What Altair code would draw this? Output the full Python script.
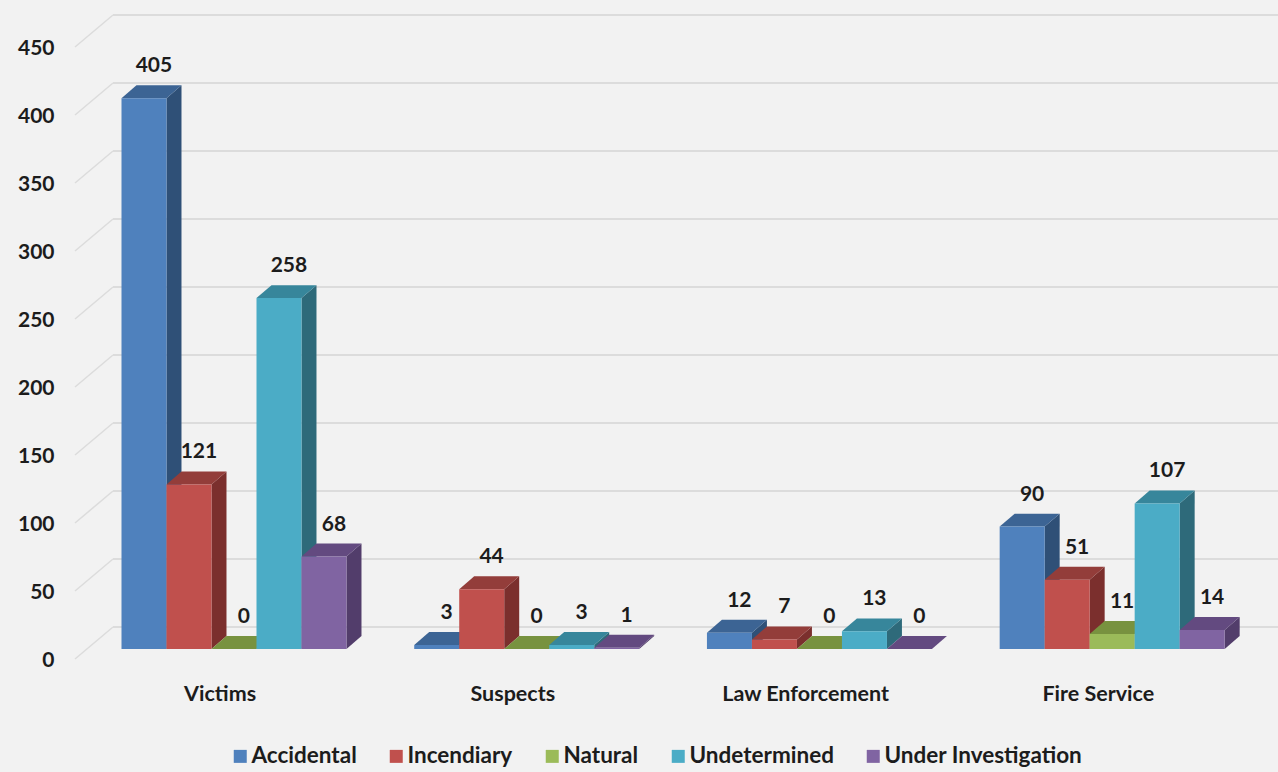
import json
import altair as alt
import pandas as pd

categories = ["Victims", "Suspects", "Law Enforcement", "Fire Service"]
series = ["Accidental", "Incendiary", "Natural", "Undetermined", "Under Investigation"]
values = {
    "Accidental": [405, 3, 12, 90],
    "Incendiary": [121, 44, 7, 51],
    "Natural": [0, 0, 0, 11],
    "Undetermined": [258, 3, 13, 107],
    "Under Investigation": [68, 1, 0, 14],
}
y_ticks = [0, 50, 100, 150, 200, 250, 300, 350, 400, 450]

front_colors = ["#4f81bd", "#c0504d", "#9bbb59", "#4bacc6", "#8064a2"]
top_colors = ["#3c6494", "#933d3a", "#78923f", "#37869b", "#634a80"]
side_colors = ["#2f5077", "#7b2f2d", "#5f7533", "#2e6a7a", "#523d6b"]

FONT = "Lato"
TEXT = "#1c1c1c"
GRID = "#dcdcdc"

# x is measured in bar widths from the left edge of the first bar.
GROUP_STEP = 6.505
DEPTH_X = 0.333          # bar depth, horizontal part
DEPTH_Y = 9.5            # bar depth, in value units
WALL_BACK = 16.2         # how far the back wall sits above the front edge
WALL_FRONT = -7.35
WALL_LEFT = -1.033
WALL_RIGHT = -0.189
X_MIN, X_MAX = -1.411, 25.7
Y_MIN, Y_MAX = -8.09, 477.2
LABEL_SHIFT = -0.32      # category labels sit slightly left of the group centre

bars, sides, tops = [], [], []
for c, cat in enumerate(categories):
    for s, name in enumerate(series):
        v = values[name][c]
        x0 = c * GROUP_STEP + s
        x1 = x0 + 1
        key = f"{cat}|{name}"
        bars.append({"key": key, "series": name, "x0": x0, "x1": x1, "base": 0, "v": v,
                     "mid": x0 + 0.72})
        sides.append({"key": key, "series": name, "x": x1, "low": 0, "high": v})
        sides.append({"key": key, "series": name, "x": x1 + DEPTH_X,
                      "low": DEPTH_Y, "high": v + DEPTH_Y})
        tops.append({"key": key, "series": name, "y": v, "left": x0, "right": x1})
        tops.append({"key": key, "series": name, "y": v + DEPTH_Y,
                     "left": x0 + DEPTH_X, "right": x1 + DEPTH_X})

walls = pd.DataFrame([{"tick": t, "y": t + WALL_BACK, "x0": WALL_RIGHT, "x1": X_MAX} for t in y_ticks])
slants = []
for t in y_ticks:
    slants.append({"tick": t, "x": WALL_LEFT, "y": t + WALL_FRONT})
    slants.append({"tick": t, "x": WALL_RIGHT, "y": t + WALL_BACK})

x_scale = alt.Scale(domain=[X_MIN, X_MAX], nice=False, zero=False)
y_scale = alt.Scale(domain=[Y_MIN, Y_MAX], nice=False, zero=False)

group_centres = [i * GROUP_STEP + 2.5 + LABEL_SHIFT for i in range(len(categories))]
label_expr = (
    f"{json.dumps(categories)}[round((datum.value - {2.5 + LABEL_SHIFT}) / {GROUP_STEP})]"
)

# Every layer shares these two axes, so they merge into a single pair.
x_axis = alt.Axis(
    values=group_centres, labelExpr=label_expr, title=None, grid=False, domain=False, ticks=False,
    labelFont=FONT, labelFontSize=21.5, labelFontWeight="bold", labelColor=TEXT, labelPadding=23,
    labelOverlap=False, labelFlush=False,
)
y_axis = alt.Axis(
    values=y_ticks, title=None, grid=False, domain=False, ticks=False, labelOffset=12,
    labelFont=FONT, labelFontSize=21, labelFontWeight="bold", labelColor=TEXT, labelPadding=4,
)

wall_lines = alt.Chart(walls).mark_rule(color=GRID, strokeWidth=2).encode(
    x=alt.X("x0:Q", scale=x_scale, axis=x_axis),
    x2="x1:Q",
    y=alt.Y("y:Q", scale=y_scale, axis=y_axis),
)
slant_lines = alt.Chart(pd.DataFrame(slants)).mark_line(color=GRID, strokeWidth=1.5).encode(
    x=alt.X("x:Q", scale=x_scale, axis=x_axis),
    y=alt.Y("y:Q", scale=y_scale, axis=y_axis),
    detail="tick:N",
)
side_faces = alt.Chart(pd.DataFrame(sides)).mark_area(opacity=1).encode(
    x=alt.X("x:Q", scale=x_scale, axis=x_axis),
    y=alt.Y("low:Q", scale=y_scale, axis=y_axis, stack=None),
    y2="high:Q",
    detail="key:N",
    color=alt.Color("series:N", scale=alt.Scale(domain=series, range=side_colors), legend=None),
)
top_faces = alt.Chart(pd.DataFrame(tops)).mark_area(opacity=1, orient="horizontal").encode(
    y=alt.Y("y:Q", scale=y_scale, axis=y_axis),
    x=alt.X("left:Q", scale=x_scale, axis=x_axis, stack=None),
    x2="right:Q",
    detail="key:N",
    color=alt.Color("series:N", scale=alt.Scale(domain=series, range=top_colors), legend=None),
)
front_faces = alt.Chart(pd.DataFrame(bars)).mark_rect(opacity=1).encode(
    x=alt.X("x0:Q", scale=x_scale, axis=x_axis),
    x2="x1:Q",
    y=alt.Y("base:Q", scale=y_scale, axis=y_axis),
    y2="v:Q",
    color=alt.Color(
        "series:N",
        scale=alt.Scale(domain=series, range=front_colors),
        title=None,
        legend=alt.Legend(
            orient="none", legendX=171, legendY=745, direction="horizontal", columns=5,
            symbolType="square", symbolSize=169, symbolStrokeWidth=0, symbolOpacity=1,
            labelFont=FONT, labelFontSize=22.5, labelFontWeight="bold", labelColor=TEXT,
            labelOffset=0, columnPadding=28, padding=0, labelLimit=300,
        ),
    ),
)
value_labels = alt.Chart(pd.DataFrame(bars)).mark_text(
    font=FONT, fontSize=21, fontWeight="bold", color=TEXT, dy=-32, baseline="middle", align="center",
).encode(
    x=alt.X("mid:Q", scale=x_scale, axis=x_axis),
    y=alt.Y("v:Q", scale=y_scale, axis=y_axis),
    text="v:Q",
)

chart = (
    alt.layer(wall_lines, slant_lines, side_faces, top_faces, front_faces, value_labels)
    .resolve_scale(color="independent")
    .properties(
        width=1220,
        height=660,
        background="#f2f2f2",
        padding={"left": 58, "top": 0, "right": 0, "bottom": 112},
        autosize=alt.AutoSizeParams(type="none"),
    )
    .configure_view(stroke=None)
)

chart.save("out.html", embed_options={"renderer": "svg", "actions": False})
